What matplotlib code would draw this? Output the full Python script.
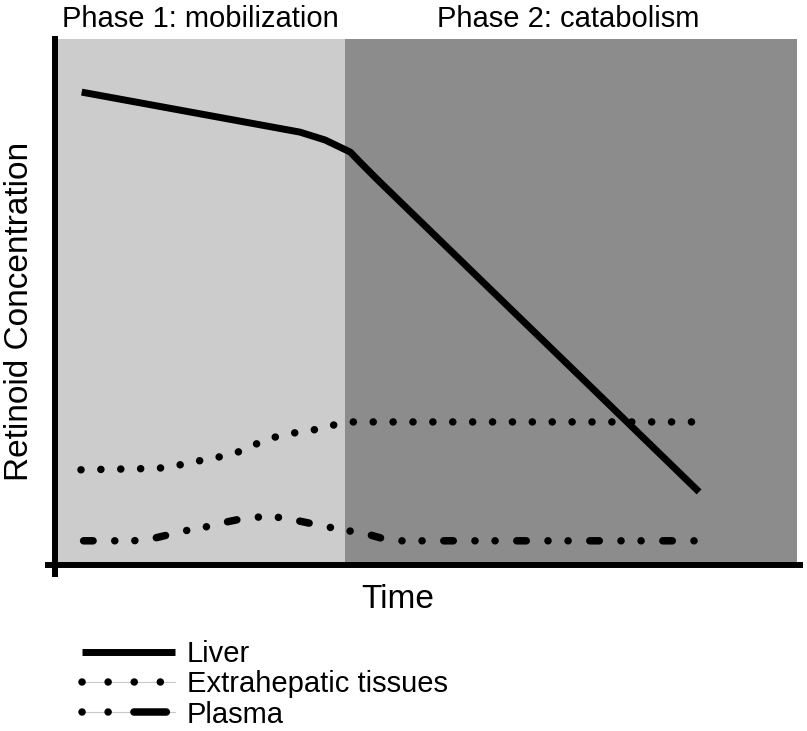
import matplotlib
matplotlib.use("Agg")
import matplotlib.pyplot as plt
from matplotlib.lines import Line2D
from matplotlib.legend_handler import HandlerTuple

plt.rcParams['font.family'] = ['Liberation Sans', 'DejaVu Sans']

# ---- data (time 0-100, concentration 0-100) ----
phase_boundary = 39.1
phase_labels = ["Phase 1: mobilization", "Phase 2: catabolism"]

liver_t = [3.6, 33.0, 36.4, 39.8, 41.1, 43.5, 86.8]
liver_c = [89.9, 82.3, 80.8, 78.5, 76.6, 73.2, 13.9]

extra_t = [3.5, 11.3, 14.0, 16.7, 19.4, 22.0, 24.7, 27.1, 29.6, 32.2, 34.9, 37.5, 40.2, 86.0]
extra_c = [18.1, 18.3, 18.4, 19.0, 19.8, 20.5, 21.5, 23.0, 24.3, 25.1, 25.7, 26.6, 27.2, 27.2]

plasma_t = [3.5, 10.5, 12.8, 17.5, 20.2, 22.5, 24.9, 27.2, 29.9, 32.1, 34.8, 36.9, 39.6, 42.0, 44.5, 46.6, 86.3]
plasma_c = [4.6, 4.6, 4.9, 6.5, 7.2, 8.0, 8.7, 9.1, 9.1, 8.6, 7.8, 7.2, 6.5, 5.9, 4.9, 4.6, 4.6]

series_labels = ["Liver", "Extrahepatic tissues", "Plasma"]
xlabel = "Time"
ylabel = "Retinoid Concentration"

W, H = 807, 731
fig = plt.figure(figsize=(W / 100, H / 100), dpi=100)
ax = fig.add_axes([55 / W, 1 - 565 / H, 742 / W, 526 / H])
ax.set_xlim(0, 100)
ax.set_ylim(0, 100)

light = '#cccccc'
dark = '#8c8c8c'
ax.axvspan(0, phase_boundary, color=light, lw=0, zorder=0)
ax.axvspan(phase_boundary, 100, color=dark, lw=0, zorder=0)

for s in ax.spines.values():
    s.set_visible(False)
ax.set_xticks([])
ax.set_yticks([])

# custom axis lines extending past the plot corner
spine_lw = 4.3
ax.plot([0, 0], [-12 / 526, 1 + 3 / 526], transform=ax.transAxes, color='black',
        lw=spine_lw, clip_on=False, solid_capstyle='butt', zorder=5)
ax.plot([-10 / 742, 1 + 6 / 742], [0, 0], transform=ax.transAxes, color='black',
        lw=spine_lw, clip_on=False, solid_capstyle='butt', zorder=5)

lw = 5.4
liver_line, = ax.plot(liver_t, liver_c, color='black', lw=5.0,
                      solid_capstyle='butt', solid_joinstyle='round', zorder=3)
extra_line, = ax.plot(extra_t, extra_c, color='black', lw=lw,
                      linestyle=(0, (0.01, 2.642)), dash_capstyle='round', zorder=3)
plasma_line, = ax.plot(plasma_t, plasma_c, color='black', lw=lw,
                       linestyle=(9.387, (1.267, 2.89, 0.01, 2.667, 0.01, 2.89)),
                       dash_capstyle='round', zorder=3)

# titles of phases
fs = 21
fig.text(62 / W, 1 - 19 / H, phase_labels[0], fontsize=fs, va='center', ha='left')
fig.text(437 / W, 1 - 19 / H, phase_labels[1], fontsize=fs, va='center', ha='left')

fig.text(20 / W, 1 - 311 / H, ylabel, fontsize=24, rotation=90, va='center', ha='center')
fig.text(398 / W, 1 - 600 / H, xlabel, fontsize=24, va='center', ha='center')

# legend
grey = '#c8c8c8'
h_liver = Line2D([], [], color='black', lw=5.0, solid_capstyle='butt')
h_extra_bg = Line2D([], [], color=grey, lw=0.8)
h_extra = Line2D([], [], color='black', lw=lw, linestyle=(0, (0.01, 3.47)),
                 dash_capstyle='round')
h_plasma_bg = Line2D([], [], color=grey, lw=0.8)
h_plasma = Line2D([], [], color='black', lw=lw,
                  linestyle=(0, (0.01, 3.47, 0.01, 3.43, 4.33, 10)),
                  dash_capstyle='round')
leg = fig.legend([h_liver, (h_extra_bg, h_extra), (h_plasma_bg, h_plasma)],
                 series_labels,
                 handler_map={tuple: HandlerTuple(ndivide=1, pad=0)},
                 loc='upper left', bbox_to_anchor=(82 / W, 1 - 640 / H),
                 frameon=False, fontsize=fs, borderpad=0, borderaxespad=0,
                 handlelength=3.2, handletextpad=0.4, labelspacing=0.08)

fig.savefig('out.png', dpi=100)
